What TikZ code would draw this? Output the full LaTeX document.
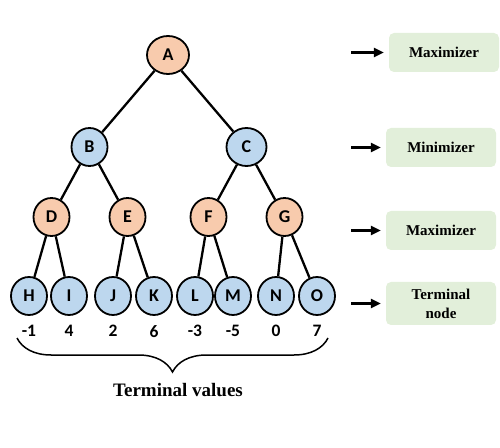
\documentclass[tikz,border=0pt]{standalone}
\usepackage{fontspec}
\setmainfont{Liberation Serif}
\newfontfamily\nodefont{Carlito}
\usetikzlibrary{positioning,shapes.geometric,arrows.meta,decorations.pathreplacing}
\definecolor{maxfill}{HTML}{F8CBAD}
\definecolor{minfill}{HTML}{BDD7EE}
\definecolor{tagfill}{HTML}{E2EFDA}

\begin{document}
\begin{tikzpicture}[x=1pt,y=1pt,
  level 1/.style={sibling distance=157pt, level distance=92pt},
  level 2/.style={sibling distance=76pt, level distance=70pt},
  level 3/.style={sibling distance=40pt, level distance=79pt},
  edge from parent/.style={draw, line width=2.3pt},
  game/.style={ellipse, draw, line width=1.8pt, minimum width=36pt, minimum height=38pt, inner sep=0pt, font=\nodefont\bfseries\fontsize{18}{18}\selectfont},
  maxnode/.style={game, fill=maxfill},
  minnode/.style={game, fill=minfill},
  val/.style={inner sep=0pt, font=\nodefont\bfseries\fontsize{17.5}{17.5}\selectfont},
  tag/.style={rectangle, rounded corners=5pt, fill=tagfill, minimum width=110pt, minimum height=39pt, align=center, font=\bfseries\fontsize{15}{19}\selectfont},
  arr/.style={-{Triangle[length=10pt,width=9pt]}, line width=2.8pt, shorten >=5pt},
  brace/.style={decorate, decoration={brace, mirror, amplitude=34pt}, line width=1.5pt}]
\useasboundingbox (0,0) rectangle (500,447);

\node[maxnode, minimum width=42pt] (A) at (168,392) {A}
  child {node[minnode] (B) {B}
    child {node[maxnode] (D) {D}
      child {node[minnode, xshift=-2.5pt] (H) {H}}
      child {node[minnode, xshift=-2.5pt] (I) {I}}
    }
    child {node[maxnode] (E) {E}
      child {node[minnode, xshift=5.5pt] (J) {J}}
      child {node[minnode, xshift=6.5pt] (K) {K}}
    }
  }
  child {node[minnode, minimum width=40pt] (C) {C}
    child {node[maxnode] (F) {F}
      child {node[minnode, xshift=6.5pt] (L) {L}}
      child {node[minnode, xshift=4.5pt] (M) {M}}
    }
    child {node[maxnode] (G) {G}
      child {node[minnode, xshift=11.5pt] (N) {N}}
      child {node[minnode, xshift=12.5pt] (O) {O}}
    }
  };

\foreach \n/\v in {H/-1,I/4,J/2,K/6,L/-3,M/-5,N/0,O/7}
  \node[val, below=9pt of \n] (v\n) {\v};

\coordinate (bl) at (17,109);
\coordinate (br) at (328,109);
\draw[brace] (bl) -- (br);
\node[font=\bfseries\fontsize{19}{19}\selectfont] (tv) at (178,57) {Terminal values};

\node[tag] (max1) at (444,394.5) {Maximizer};
\node[tag] (min1) at (441,299.5) {Minimizer};
\node[tag] (max2) at (441,216.5) {Maximizer};
\node[tag, minimum height=43pt] (term) at (441,143.5) {Terminal\\node};

\coordinate (a1) at (351,394.5);
\coordinate (a2) at (351,299.5);
\coordinate (a3) at (351,216.5);
\coordinate (a4) at (351,143.5);
\draw[arr] (a1) -- (max1);
\draw[arr] (a2) -- (min1);
\draw[arr] (a3) -- (max2);
\draw[arr] (a4) -- (term);
\end{tikzpicture}
\end{document}
